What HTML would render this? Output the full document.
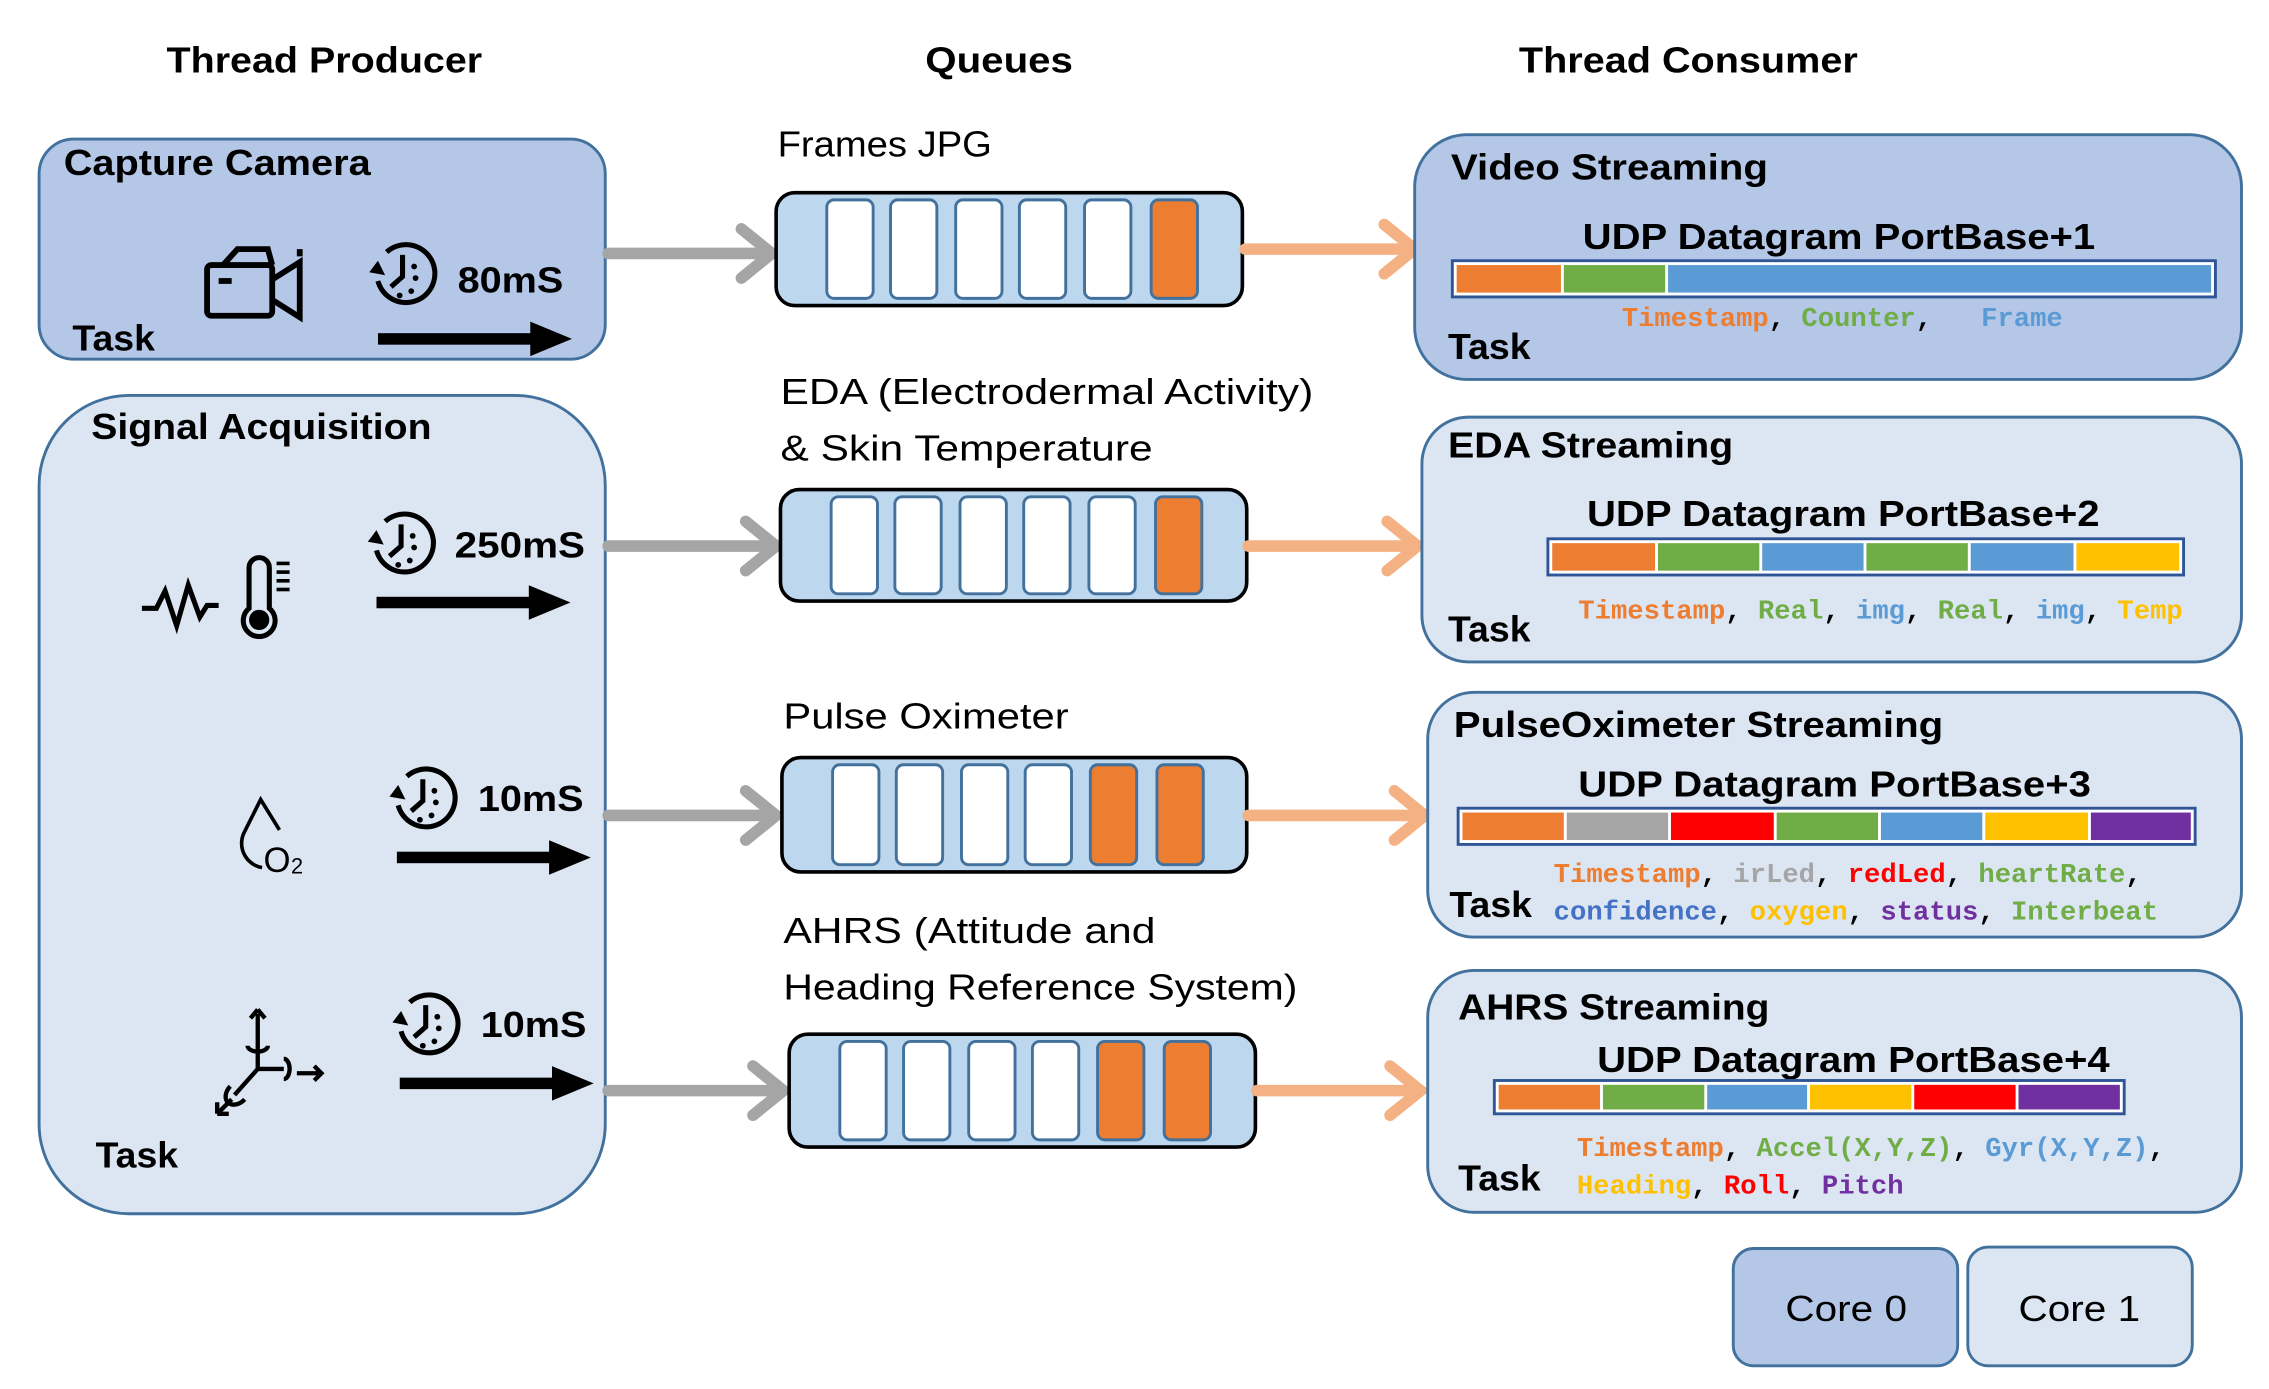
<!DOCTYPE html>
<html><head><meta charset="utf-8"><style>
html,body{margin:0;padding:0;background:#fff;}
svg{display:block}
.h{font-family:"Liberation Sans",sans-serif;font-weight:bold;font-size:25px;fill:#000}
.t{font-family:"Liberation Sans",sans-serif;font-weight:bold;font-size:25px;fill:#000}
.n{font-family:"Liberation Sans",sans-serif;font-size:25px;fill:#000}
.m{font-family:"Liberation Mono",monospace;font-weight:bold;font-size:18.8px}
</style></head><body>
<svg width="2269" height="1389" viewBox="0 0 1567 959" preserveAspectRatio="none" xmlns="http://www.w3.org/2000/svg">
<defs>
<symbol id="clk" viewBox="0 0 50 50">
<path d="M14 10 A20 20 0 1 1 8 30" fill="none" stroke="#000" stroke-width="3.5"/>
<path d="M2 24 L8 16 L13 26 Z" fill="#000"/>
<path d="M25 12 V27 L17 34" fill="none" stroke="#000" stroke-width="3.5"/>
<circle cx="33" cy="20" r="2" fill="#000"/><circle cx="34" cy="28" r="2" fill="#000"/>
<circle cx="31" cy="37" r="2" fill="#000"/><circle cx="23" cy="40" r="2" fill="#000"/>
</symbol>
<symbol id="blk" viewBox="0 0 135 24">
<rect x="0" y="8" width="108" height="8" fill="#000"/><path d="M106 0 L135 12 L106 24 Z" fill="#000"/>
</symbol>
</defs>

<text class="h" x="224" y="50" text-anchor="middle" textLength="218" lengthAdjust="spacingAndGlyphs">Thread Producer</text>
<text class="h" x="690" y="50" text-anchor="middle" textLength="102" lengthAdjust="spacingAndGlyphs">Queues</text>
<text class="h" x="1166" y="50" text-anchor="middle" textLength="234" lengthAdjust="spacingAndGlyphs">Thread Consumer</text>

<rect x="27" y="96" width="391" height="152" rx="24" fill="#b4c7e7" stroke="#41719c" stroke-width="2"/>
<text class="t" x="44" y="121" textLength="212" lengthAdjust="spacingAndGlyphs">Capture Camera</text>
<text class="t" x="50" y="242" textLength="57" lengthAdjust="spacingAndGlyphs">Task</text>
<g fill="none" stroke="#000" stroke-width="4">
<rect x="143" y="183" width="45" height="35" rx="3"/>
<path d="M154 183 L164 172 L185 172 L188 183"/>
<path d="M188 193 L207 181 V219 L188 207"/>
<line x1="151" y1="194" x2="160" y2="194"/>
<line x1="207" y1="172" x2="207" y2="177"/>
</g>
<use href="#clk" x="253" y="164" width="50" height="50"/>
<text class="t" x="316" y="202" textLength="73" lengthAdjust="spacingAndGlyphs">80mS</text>
<use href="#blk" x="261" y="222" width="134" height="24"/>

<rect x="27" y="273" width="391" height="565" rx="62" fill="#dce6f3" stroke="#41719c" stroke-width="2"/>
<text class="t" x="63" y="303" textLength="235" lengthAdjust="spacingAndGlyphs">Signal Acquisition</text>
<text class="t" x="66" y="806" textLength="57" lengthAdjust="spacingAndGlyphs">Task</text>
<path d="M98 420 H108 L114 408 L122 432 L130 404 L138 426 L143 418 H151" fill="none" stroke="#000" stroke-width="3.5"/>
<path d="M172 392 a7 7 0 0 1 14 0 V420 a11 11 0 1 1 -14 0 Z" fill="none" stroke="#000" stroke-width="3.5"/>
<circle cx="179" cy="428" r="7" fill="#000"/>
<g stroke="#000" stroke-width="2.5"><line x1="191" y1="389" x2="200" y2="389"/><line x1="191" y1="395" x2="200" y2="395"/><line x1="191" y1="401" x2="200" y2="401"/><line x1="191" y1="407" x2="200" y2="407"/></g>
<use href="#clk" x="252" y="350" width="50" height="50"/>
<text class="t" x="314" y="385" textLength="90" lengthAdjust="spacingAndGlyphs">250mS</text>
<use href="#blk" x="260" y="404" width="134" height="24"/>
<path d="M181 599 A17 17 0 0 1 169 574 L180 552 L193 573" fill="none" stroke="#000" stroke-width="2.5"/>
<text x="182" y="602" style="font-family:'Liberation Sans',sans-serif;font-size:24px">O</text>
<text x="201" y="603" style="font-family:'Liberation Sans',sans-serif;font-size:15px">2</text>
<use href="#clk" x="267" y="526" width="50" height="50"/>
<text class="t" x="330" y="560" textLength="73" lengthAdjust="spacingAndGlyphs">10mS</text>
<use href="#blk" x="274" y="580" width="134" height="24"/>
<g fill="none" stroke="#000" stroke-width="3">
<path d="M178 700 V738 H196 M178 738 L162 756"/>
<path d="M178 697 l-5 6 M178 697 l5 6"/>
<path d="M171 722 a7 4 0 1 0 14 0"/>
<path d="M196 731 a4 7 0 1 1 0 14"/>
<path d="M159 750 a7 5 -45 1 0 10 9"/>
<path d="M205 741 H222 M217 736 L222 741 L217 746"/>
<path d="M150 769 L160 759 M150 769 V761 M150 769 H158"/>
</g>
<use href="#clk" x="269" y="682" width="50" height="50"/>
<text class="t" x="332" y="716" textLength="73" lengthAdjust="spacingAndGlyphs">10mS</text>
<use href="#blk" x="276" y="736" width="134" height="24"/>

<g stroke="#a5a5a5" stroke-width="8" fill="none" stroke-linecap="round">
<line x1="420" y1="175" x2="532" y2="175"/><path d="M512 158 L533 175 L512 192"/>
<line x1="420" y1="377" x2="535" y2="377"/><path d="M515 360 L536 377 L515 394"/>
<line x1="420" y1="563" x2="535" y2="563"/><path d="M515 546 L536 563 L515 580"/>
<line x1="420" y1="753" x2="540" y2="753"/><path d="M520 736 L541 753 L520 770"/>
</g>

<text class="n" x="537" y="108" textLength="148" lengthAdjust="spacingAndGlyphs">Frames JPG</text>
<text class="n" x="539" y="279" textLength="368" lengthAdjust="spacingAndGlyphs">EDA (Electrodermal Activity)</text>
<text class="n" x="539" y="318" textLength="257" lengthAdjust="spacingAndGlyphs">&amp; Skin Temperature</text>
<text class="n" x="541" y="503" textLength="197" lengthAdjust="spacingAndGlyphs">Pulse Oximeter</text>
<text class="n" x="541" y="651" textLength="257" lengthAdjust="spacingAndGlyphs">AHRS  (Attitude and</text>
<text class="n" x="541" y="690" textLength="355" lengthAdjust="spacingAndGlyphs">Heading Reference System)</text>

<g stroke-width="2.5">
<rect x="536" y="133" width="322" height="78" rx="13" fill="#bdd7ee" stroke="#000"/>
<rect x="539" y="338" width="322" height="77" rx="13" fill="#bdd7ee" stroke="#000"/>
<rect x="540" y="523" width="321" height="79" rx="13" fill="#bdd7ee" stroke="#000"/>
<rect x="545" y="714" width="322" height="78" rx="13" fill="#bdd7ee" stroke="#000"/>
</g>
<g stroke="#41719c" stroke-width="2">
<rect x="571" y="138" width="32" height="68" rx="5" fill="#fff"/><rect x="615" y="138" width="32" height="68" rx="5" fill="#fff"/><rect x="660" y="138" width="32" height="68" rx="5" fill="#fff"/><rect x="704" y="138" width="32" height="68" rx="5" fill="#fff"/><rect x="749" y="138" width="32" height="68" rx="5" fill="#fff"/><rect x="795" y="138" width="32" height="68" rx="5" fill="#ed7d31"/>
<rect x="574" y="343" width="32" height="67" rx="5" fill="#fff"/><rect x="618" y="343" width="32" height="67" rx="5" fill="#fff"/><rect x="663" y="343" width="32" height="67" rx="5" fill="#fff"/><rect x="707" y="343" width="32" height="67" rx="5" fill="#fff"/><rect x="752" y="343" width="32" height="67" rx="5" fill="#fff"/><rect x="798" y="343" width="32" height="67" rx="5" fill="#ed7d31"/>
<rect x="575" y="528" width="32" height="69" rx="5" fill="#fff"/><rect x="619" y="528" width="32" height="69" rx="5" fill="#fff"/><rect x="664" y="528" width="32" height="69" rx="5" fill="#fff"/><rect x="708" y="528" width="32" height="69" rx="5" fill="#fff"/><rect x="753" y="528" width="32" height="69" rx="5" fill="#ed7d31"/><rect x="799" y="528" width="32" height="69" rx="5" fill="#ed7d31"/>
<rect x="580" y="719" width="32" height="68" rx="5" fill="#fff"/><rect x="624" y="719" width="32" height="68" rx="5" fill="#fff"/><rect x="669" y="719" width="32" height="68" rx="5" fill="#fff"/><rect x="713" y="719" width="32" height="68" rx="5" fill="#fff"/><rect x="758" y="719" width="32" height="68" rx="5" fill="#ed7d31"/><rect x="804" y="719" width="32" height="68" rx="5" fill="#ed7d31"/>
</g>

<g stroke="#f4b183" stroke-width="8" fill="none" stroke-linecap="round">
<line x1="860" y1="172" x2="976" y2="172"/><path d="M956 155 L977 172 L956 189"/>
<line x1="862" y1="377" x2="978" y2="377"/><path d="M958 360 L979 377 L958 394"/>
<line x1="862" y1="563" x2="983" y2="563"/><path d="M963 546 L984 563 L963 580"/>
<line x1="868" y1="753" x2="980" y2="753"/><path d="M960 736 L981 753 L960 770"/>
</g>

<rect x="977" y="93" width="571" height="169" rx="36" fill="#b4c7e7" stroke="#41719c" stroke-width="2"/>
<text class="t" x="1002" y="124" textLength="219" lengthAdjust="spacingAndGlyphs">Video Streaming</text>
<text class="t" x="1270" y="172" text-anchor="middle" textLength="354" lengthAdjust="spacingAndGlyphs">UDP Datagram PortBase+1</text>
<rect x="1003" y="180" width="527" height="25" fill="#fff" stroke="#2f5597" stroke-width="2"/>
<rect x="1006" y="183" width="72" height="19" fill="#ed7d31"/><rect x="1080" y="183" width="70" height="19" fill="#70ad47"/><rect x="1152" y="183" width="375" height="19" fill="#5b9bd5"/>
<text class="m" x="1120" y="225" xml:space="preserve"><tspan fill="#ed7d31">Timestamp</tspan><tspan fill="#000">,</tspan> <tspan fill="#70ad47">Counter</tspan><tspan fill="#000">,</tspan>   <tspan fill="#5b9bd5">Frame</tspan></text>
<text class="t" x="1000" y="248" textLength="57" lengthAdjust="spacingAndGlyphs">Task</text>

<rect x="982" y="288" width="566" height="169" rx="32" fill="#dce6f3" stroke="#41719c" stroke-width="2"/>
<text class="t" x="1000" y="316" textLength="197" lengthAdjust="spacingAndGlyphs">EDA Streaming</text>
<text class="t" x="1273" y="363" text-anchor="middle" textLength="354" lengthAdjust="spacingAndGlyphs">UDP Datagram PortBase+2</text>
<rect x="1069" y="372" width="439" height="25" fill="#fff" stroke="#2f5597" stroke-width="2"/>
<rect x="1072" y="375" width="71" height="19" fill="#ed7d31"/><rect x="1145" y="375" width="70" height="19" fill="#70ad47"/><rect x="1217" y="375" width="70" height="19" fill="#5b9bd5"/><rect x="1289" y="375" width="70" height="19" fill="#70ad47"/><rect x="1361" y="375" width="71" height="19" fill="#5b9bd5"/><rect x="1434" y="375" width="71" height="19" fill="#ffc000"/>
<text class="m" x="1090" y="427"><tspan fill="#ed7d31">Timestamp</tspan><tspan fill="#000">,</tspan> <tspan fill="#70ad47">Real</tspan><tspan fill="#000">,</tspan> <tspan fill="#5b9bd5">img</tspan><tspan fill="#000">,</tspan> <tspan fill="#70ad47">Real</tspan><tspan fill="#000">,</tspan> <tspan fill="#5b9bd5">img</tspan><tspan fill="#000">,</tspan> <tspan fill="#ffc000">Temp</tspan></text>
<text class="t" x="1000" y="443" textLength="57" lengthAdjust="spacingAndGlyphs">Task</text>

<rect x="986" y="478" width="562" height="169" rx="32" fill="#dce6f3" stroke="#41719c" stroke-width="2"/>
<text class="t" x="1004" y="509" textLength="338" lengthAdjust="spacingAndGlyphs">PulseOximeter Streaming</text>
<text class="t" x="1267" y="550" text-anchor="middle" textLength="354" lengthAdjust="spacingAndGlyphs">UDP Datagram PortBase+3</text>
<rect x="1007" y="558" width="509" height="25" fill="#fff" stroke="#2f5597" stroke-width="2"/>
<rect x="1010" y="561" width="70" height="19" fill="#ed7d31"/><rect x="1082" y="561" width="70" height="19" fill="#a5a5a5"/><rect x="1154" y="561" width="71" height="19" fill="#ff0000"/><rect x="1227" y="561" width="70" height="19" fill="#70ad47"/><rect x="1299" y="561" width="70" height="19" fill="#5b9bd5"/><rect x="1371" y="561" width="71" height="19" fill="#ffc000"/><rect x="1444" y="561" width="69" height="19" fill="#7030a0"/>
<text class="m" x="1073" y="609"><tspan fill="#ed7d31">Timestamp</tspan><tspan fill="#000">,</tspan> <tspan fill="#a5a5a5">irLed</tspan><tspan fill="#000">,</tspan> <tspan fill="#ff0000">redLed</tspan><tspan fill="#000">,</tspan> <tspan fill="#70ad47">heartRate</tspan><tspan fill="#000">,</tspan></text>
<text class="m" x="1073" y="635"><tspan fill="#4472c4">confidence</tspan><tspan fill="#000">,</tspan> <tspan fill="#ffc000">oxygen</tspan><tspan fill="#000">,</tspan> <tspan fill="#7030a0">status</tspan><tspan fill="#000">,</tspan> <tspan fill="#70ad47">Interbeat</tspan></text>
<text class="t" x="1001" y="633" textLength="57" lengthAdjust="spacingAndGlyphs">Task</text>

<rect x="986" y="670" width="562" height="167" rx="32" fill="#dce6f3" stroke="#41719c" stroke-width="2"/>
<text class="t" x="1007" y="704" textLength="215" lengthAdjust="spacingAndGlyphs">AHRS Streaming</text>
<text class="t" x="1280" y="740" text-anchor="middle" textLength="354" lengthAdjust="spacingAndGlyphs">UDP Datagram PortBase+4</text>
<rect x="1032" y="746" width="435" height="23" fill="#fff" stroke="#2f5597" stroke-width="2"/>
<rect x="1035" y="749" width="70" height="17" fill="#ed7d31"/><rect x="1107" y="749" width="70" height="17" fill="#70ad47"/><rect x="1179" y="749" width="69" height="17" fill="#5b9bd5"/><rect x="1250" y="749" width="70" height="17" fill="#ffc000"/><rect x="1322" y="749" width="70" height="17" fill="#ff0000"/><rect x="1394" y="749" width="70" height="17" fill="#7030a0"/>
<text class="m" x="1089" y="798"><tspan fill="#ed7d31">Timestamp</tspan><tspan fill="#000">,</tspan> <tspan fill="#70ad47">Accel(X,Y,Z)</tspan><tspan fill="#000">,</tspan> <tspan fill="#5b9bd5">Gyr(X,Y,Z)</tspan><tspan fill="#000">,</tspan></text>
<text class="m" x="1089" y="824"><tspan fill="#ffc000">Heading</tspan><tspan fill="#000">,</tspan> <tspan fill="#ff0000">Roll</tspan><tspan fill="#000">,</tspan> <tspan fill="#7030a0">Pitch</tspan></text>
<text class="t" x="1007" y="822" textLength="57" lengthAdjust="spacingAndGlyphs">Task</text>

<rect x="1197" y="862" width="155" height="81" rx="14" fill="#b4c7e7" stroke="#41719c" stroke-width="2"/>
<rect x="1359" y="861" width="155" height="82" rx="14" fill="#dce6f3" stroke="#41719c" stroke-width="2"/>
<text class="n" x="1275" y="912" text-anchor="middle" textLength="84" lengthAdjust="spacingAndGlyphs">Core 0</text>
<text class="n" x="1436" y="912" text-anchor="middle" textLength="84" lengthAdjust="spacingAndGlyphs">Core 1</text>
</svg>
</body></html>
